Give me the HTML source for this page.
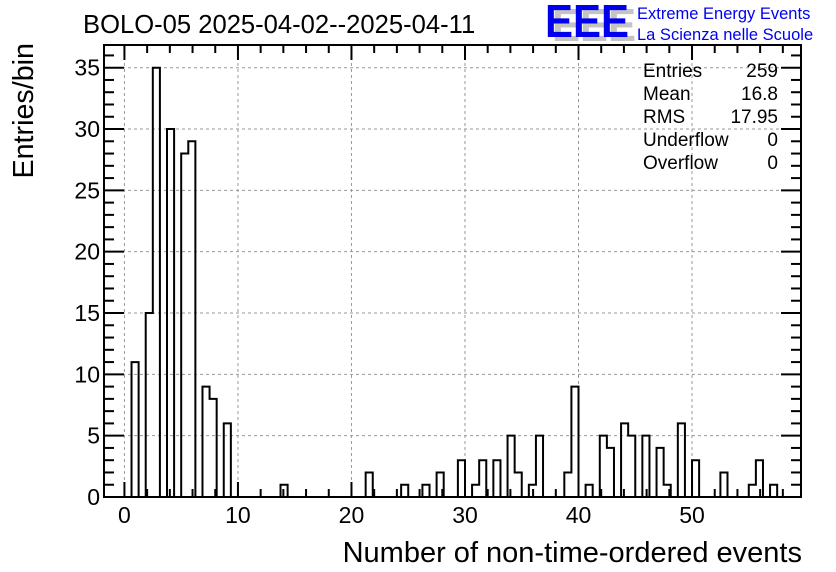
<!DOCTYPE html>
<html><head><meta charset="utf-8"><style>
html,body{margin:0;padding:0;background:#fff;}
svg{display:block;font-family:"Liberation Sans",Arial,sans-serif;}
</style></head><body>
<svg id="chart" width="836" height="572" viewBox="0 0 836 572" xmlns="http://www.w3.org/2000/svg">
<rect width="836" height="572" fill="#fff"/>
<text x="83" y="33" font-size="25.6" fill="#000">BOLO-05 2025-04-02--2025-04-11</text>
<g>
<text x="552" y="41" font-size="46" font-weight="bold" fill="#c4c4c4" textLength="84" lengthAdjust="spacingAndGlyphs">EEE</text>
<text x="545" y="37" font-size="46" font-weight="bold" fill="#0000ee" textLength="84" lengthAdjust="spacingAndGlyphs">EEE</text>
<text x="637" y="19" font-size="16.5" fill="#0000ee">Extreme Energy Events</text>
<text x="637" y="40" font-size="16.5" fill="#0000ee">La Scienza nelle Scuole</text>
</g>
<g id="grid"></g>
<g id="bars"></g>
<g id="axes"></g>
<g font-size="19" fill="#000">
<text x="643" y="77">Entries</text><text x="778" y="77" text-anchor="end">259</text>
<text x="643" y="100">Mean</text><text x="778" y="100" text-anchor="end">16.8</text>
<text x="643" y="123">RMS</text><text x="778" y="123" text-anchor="end">17.95</text>
<text x="643" y="146">Underflow</text><text x="778" y="146" text-anchor="end">0</text>
<text x="643" y="169">Overflow</text><text x="778" y="169" text-anchor="end">0</text>
</g>
<text x="802" y="562" font-size="29" text-anchor="end">Number of non-time-ordered events</text>
<text transform="translate(33,43) rotate(-90)" font-size="28.7" text-anchor="end">Entries/bin</text>
</svg>
<script>
// data: bin index -> count (bin k covers [-1.25 + k*0.625, -1.25 + (k+1)*0.625))
const binIndex = [3,5,6,8,10,11,13,14,16,24,36,41,44,46,49,51,52,54,56,57,59,60,64,65,67,69,70,72,73,75,77,78,80,82,86,90,91,93];
const binCounts = [11,15,35,30,28,29,9,8,6,1,2,1,1,2,3,1,3,3,5,2,1,5,2,9,1,5,4,6,5,5,4,1,6,3,2,1,3,1];
const binStart = -1.25, binWidth = 0.625, nBins = 98;
const xTickLabels = ["0","10","20","30","40","50"];
const yTickLabels = ["0","5","10","15","20","25","30","35"];

const L=104,R=801,T=45,B=497;
const xMin=-1.8,xMax=59.6,yMin=0,yMax=36.85;
const X=v=>L+(v-xMin)/(xMax-xMin)*(R-L);
const Y=v=>B-(v-yMin)/(yMax-yMin)*(B-T);
const NS="http://www.w3.org/2000/svg";
function mk(t,a,p){const e=document.createElementNS(NS,t);for(const k in a)e.setAttribute(k,a[k]);p.appendChild(e);return e;}
const grid=document.getElementById('grid'),bars=document.getElementById('bars'),axes=document.getElementById('axes');

xTickLabels.forEach(s=>{const v=+s;const g=mk('line',{x1:X(v),x2:X(v),y1:T,y2:B,stroke:'#999','stroke-dasharray':'3,3','stroke-width':1},grid);

});
yTickLabels.forEach(s=>{const v=+s;if(v===0)return;const g=mk('line',{x1:L,x2:R,y1:Y(v),y2:Y(v),stroke:'#999','stroke-dasharray':'3,3','stroke-width':1},grid);

});

const counts=new Array(nBins).fill(0);
binIndex.forEach((k,i)=>counts[k]=binCounts[i]);
let d='M'+X(binStart)+','+Y(0);
for(let k=0;k<nBins;k++){const x0=X(binStart+k*binWidth),x1=X(binStart+(k+1)*binWidth);const y=Y(counts[k]);d+=' L'+x0+','+y+' L'+x1+','+y;}
d+=' L'+X(binStart+nBins*binWidth)+','+Y(0);
const p=mk('path',{d:d,fill:'none',stroke:'#000','stroke-width':2,'clip-path':'url(#clip)'},bars);


const defs=mk('defs',{},document.getElementById('chart'));
const cp=mk('clipPath',{id:'clip'},defs);mk('rect',{x:L,y:T,width:R-L,height:B-T},cp);

const fr=mk('rect',{x:L,y:T,width:R-L,height:B-T,fill:'none',stroke:'#000','stroke-width':2},axes);


for(let v=0;v<=58;v+=2){const maj=v%10===0;const len=maj?15:8;const x=X(v);
mk('line',{x1:x,x2:x,y1:B,y2:B-len,stroke:'#000','stroke-width':2},axes);
mk('line',{x1:x,x2:x,y1:T,y2:T+len,stroke:'#000','stroke-width':2},axes);}
xTickLabels.forEach(s=>{const t=mk('text',{x:X(+s),y:B+26,'font-size':23,'text-anchor':'middle'},axes);t.textContent=s;

});
for(let v=0;v<=36;v++){const maj=v%5===0;const len=maj?20:10;const y=Y(v);
mk('line',{x1:L,x2:L+len,y1:y,y2:y,stroke:'#000','stroke-width':2},axes);
mk('line',{x1:R,x2:R-len,y1:y,y2:y,stroke:'#000','stroke-width':2},axes);}
yTickLabels.forEach(s=>{const t=mk('text',{x:L-4,y:Y(+s)+8,'font-size':23,'text-anchor':'end'},axes);t.textContent=s;

});
</script>
</body></html>
